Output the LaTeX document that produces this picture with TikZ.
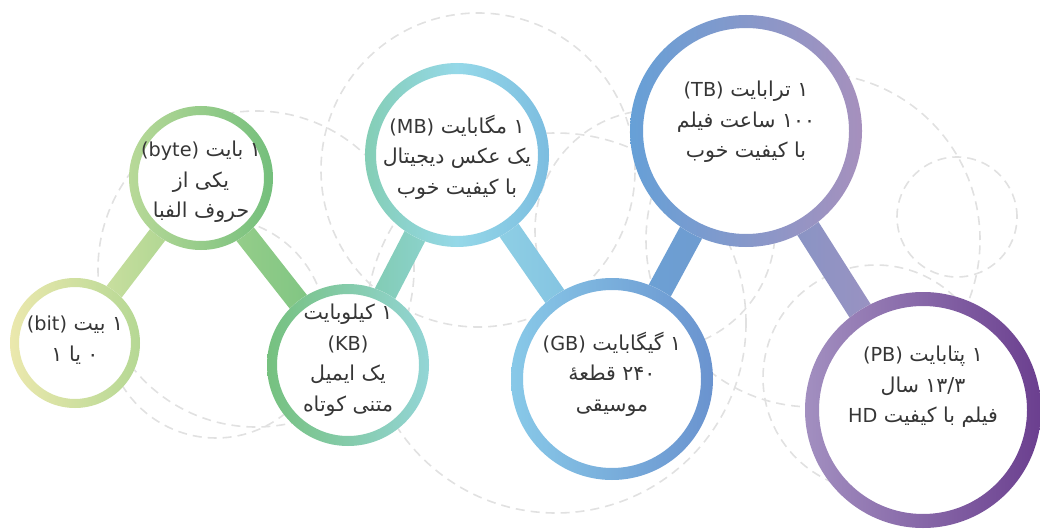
\documentclass[tikz,border=0pt]{standalone}
\usepackage{fontspec}
\setmainfont{DejaVu Sans}
\newfontfamily\fa[Script=Arabic]{DejaVu Sans}
\newfontfamily\lat[Scale=0.94]{DejaVu Sans}
\TeXXeTstate=1
\usetikzlibrary{calc}
\pgfdeclarelayer{back}
\pgfdeclarelayer{bars}
\pgfsetlayers{back,bars,main}
\definecolor{ink}{HTML}{363636}
\definecolor{ghostgray}{HTML}{E1E1E1}
% ring colours
\definecolor{bitL}{HTML}{EBE8AD}  \definecolor{bitR}{HTML}{B5D894}
\definecolor{byteL}{HTML}{B8D998} \definecolor{byteR}{HTML}{74BF7C}
\definecolor{kbL}{HTML}{76C17F}   \definecolor{kbR}{HTML}{93D5D6}
\definecolor{mbL}{HTML}{84CEB5}   \definecolor{mbM}{HTML}{95D8E8} \definecolor{mbR}{HTML}{7CBDE0}
\definecolor{gbL}{HTML}{88C9E8}   \definecolor{gbR}{HTML}{6A93CF}
\definecolor{tbL}{HTML}{66A0D7}   \definecolor{tbR}{HTML}{A690BD}
\definecolor{pbL}{HTML}{A28FC0}   \definecolor{pbR}{HTML}{6B3F8F}
% bar colours
\definecolor{barA1}{HTML}{D6E3A5} \definecolor{barA2}{HTML}{A2D28C}
\definecolor{barB1}{HTML}{A0D28D} \definecolor{barB2}{HTML}{74C07F}
\definecolor{barC1}{HTML}{7CC8A5} \definecolor{barC2}{HTML}{92D6DC}
\definecolor{barD1}{HTML}{95D7E6} \definecolor{barD2}{HTML}{7DBBE0}
\definecolor{barE1}{HTML}{6AA5D8} \definecolor{barE2}{HTML}{7196CC}
\definecolor{barF1}{HTML}{7D96C7} \definecolor{barF2}{HTML}{A690BF}
\newcommand{\faline}[1]{\beginR #1\endR}
\newcommand{\enword}[1]{\beginL{\lat #1}\endL{}}
% bar between two bubbles: from, to, half width, left colour, right colour
\newcommand{\joinbar}[5]{%
  \shade[left color=#4, right color=#5]
    ($(#1.center)!#3!90:(#2.center)$) -- ($(#2.center)!#3!-90:(#1.center)$) --
    ($(#2.center)!#3!90:(#1.center)$) -- ($(#1.center)!#3!-90:(#2.center)$) -- cycle;}
\tikzset{
  bubble/.style n args={3}{circle, minimum size=#1, inner sep=0pt, fill=white,
    path picture={\shade[#3, even odd rule] (path picture bounding box.center)
      circle[radius=#1/2] circle[radius=#1/2-#2];}},
  txt/.style={font=\fa\fontsize{20.5}{30.5}\selectfont, text=ink, align=center, inner sep=0pt},
  ghost/.style={draw=ghostgray, line width=1.6pt, dash pattern=on 9pt off 6pt},
}
\begin{document}
\begin{tikzpicture}[x=1pt, y=-1pt]
  \useasboundingbox (0,0) rectangle (1040,529);
  % bubbles
  \node[bubble={130pt}{9pt}{left color=bitL, right color=bitR}] (bit) at (75,343) {};
  \node[bubble={144pt}{9pt}{left color=byteL, right color=byteR}] (byte) at (201,178) {};
  \node[bubble={162pt}{10pt}{left color=kbL, right color=kbR}] (kb) at (348,365) {};
  \node[bubble={184pt}{11pt}{left color=mbL, right color=mbR, middle color=mbM}] (mb) at (457,155) {};
  \node[bubble={202pt}{12pt}{left color=gbL, right color=gbR}] (gb) at (612,379) {};
  \node[bubble={232pt}{13pt}{left color=tbL, right color=tbR}] (tb) at (746,131) {};
  \node[bubble={236pt}{14pt}{left color=pbL, right color=pbR}] (pb) at (923,410) {};
  % texts
  \node[txt] (bit-t) at ($(bit)+(0,-3)$)
    {\faline{۱ بیت \enword{(bit)}}\\ \faline{۰ یا ۱}};
  \node[txt] (byte-t) at ($(byte)+(0,4)$)
    {\faline{۱ بایت \enword{(byte)}}\\ \faline{یکی از}\\ \faline{حروف الفبا}};
  \node[txt] (kb-t) at ($(kb)+(0,-5)$)
    {\faline{۱ کیلوبایت}\\ \faline{\enword{(KB)}}\\ \faline{یک ایمیل}\\ \faline{متنی کوتاه}};
  \node[txt] (mb-t) at ($(mb)+(0,2)$)
    {\faline{۱ مگابایت \enword{(MB)}}\\ \faline{یک عکس دیجیتال}\\ \faline{با کیفیت خوب}};
  \node[txt] (gb-t) at ($(gb)+(0,-5)$)
    {\faline{۱ گیگابایت \enword{(GB)}}\\ \faline{۲۴۰ قطعهٔ}\\ \faline{موسیقی}};
  \node[txt] (tb-t) at ($(tb)+(0,-9)$)
    {\faline{۱ ترابایت \enword{(TB)}}\\ \faline{۱۰۰ ساعت فیلم}\\ \faline{با کیفیت خوب}};
  \node[txt] (pb-t) at ($(pb)+(0,-23)$)
    {\faline{۱ پتابایت \enword{(PB)}}\\ \faline{۱۳/۳ سال}\\ \faline{فیلم با کیفیت \enword{HD}}};
  % bars
  \begin{pgfonlayer}{bars}
    \joinbar{bit}{byte}{9.5pt}{barA1}{barA2}
    \joinbar{byte}{kb}{11pt}{barB1}{barB2}
    \joinbar{kb}{mb}{11.5pt}{barC1}{barC2}
    \joinbar{mb}{gb}{11.5pt}{barD1}{barD2}
    \joinbar{gb}{tb}{12.5pt}{barE1}{barE2}
    \joinbar{tb}{pb}{12.5pt}{barF1}{barF2}
  \end{pgfonlayer}
  % faint dashed rings behind
  \begin{pgfonlayer}{back}
    \foreach \cx/\cy/\rad in {478/170/157, 256/269/158, 216/328/110, 556/323/190,
                              813/240/167, 876/378/113, 957/217/60, 655/230/120}
      \draw[ghost] (\cx,\cy) circle[radius=\rad pt];
  \end{pgfonlayer}
\end{tikzpicture}
\end{document}
